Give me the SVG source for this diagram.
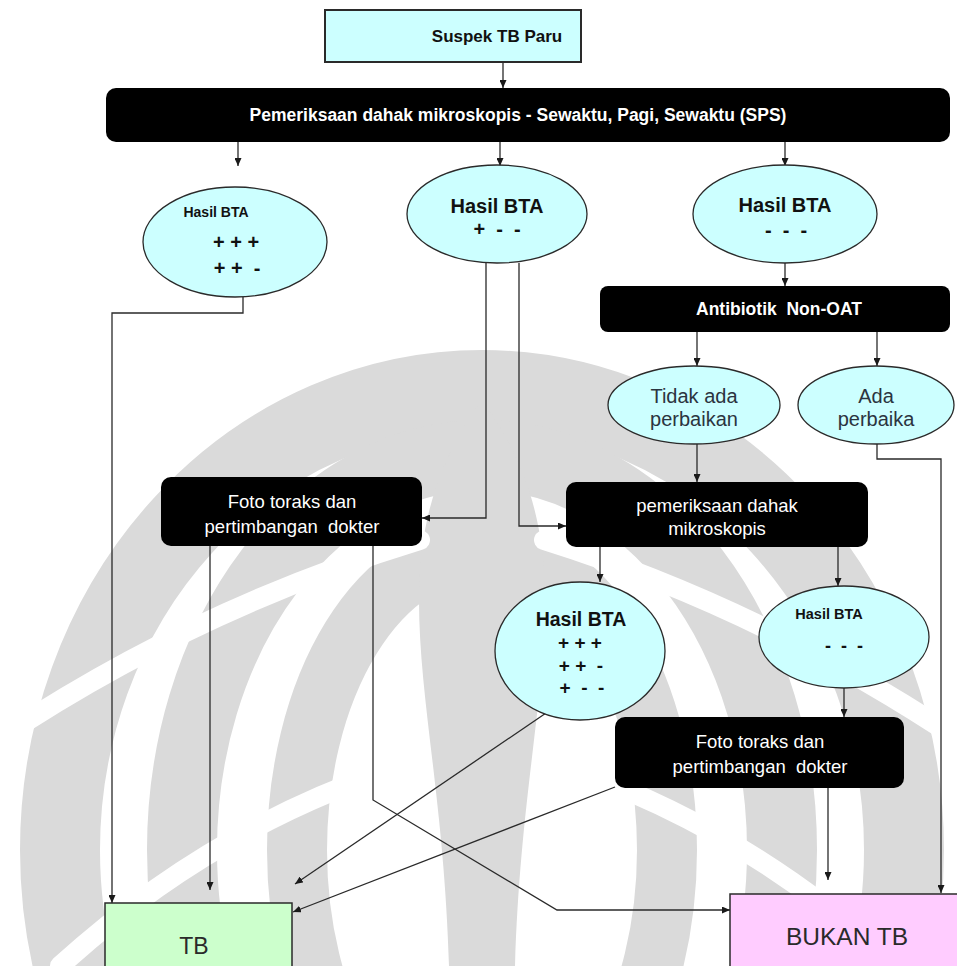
<svg xmlns="http://www.w3.org/2000/svg" width="957" height="966" viewBox="0 0 957 966">
  <style>
    .t { font-family: "Liberation Sans", Arial, sans-serif; text-anchor: middle; dominant-baseline: central; white-space: pre; }
    .b { font-weight: bold; }
    .w { fill: #ffffff; }
    .k { fill: #111111; }
    .s { fill: #2b3440; }
    .ln { fill: none; stroke: #2a2a2a; stroke-width: 1.3; }
    .arr { marker-end: url(#ah); }
    .oval { fill: #ccffff; stroke: #2a2a2a; stroke-width: 1.3; }
    .dark { fill: #000000; }
    .band { fill: none; stroke: #dadada; }
    .cut { fill: none; stroke: #ffffff; stroke-width: 20; stroke-linecap: round; }
  </style>
  <defs>
    <marker id="ah" viewBox="0 0 8 7" refX="8" refY="3.5" markerWidth="8" markerHeight="7" markerUnits="userSpaceOnUse" orient="auto">
      <path d="M0,0 L8,3.5 L0,7 z" fill="#1a1a1a"/>
    </marker>
  </defs>

  <rect width="957" height="966" fill="#ffffff"/>

  <!-- faint emblem behind the chart -->
  <g id="emblem">
    <ellipse class="band" cx="482" cy="850" rx="422" ry="460" stroke-width="80"/>
    <ellipse class="band" cx="482" cy="850" rx="300" ry="395" stroke-width="70"/>
    <ellipse class="band" cx="482" cy="850" rx="185" ry="300" stroke-width="60"/>
    <path fill="#dadada" d="M482,400 C525,460 545,520 545,600 C545,700 520,800 515,966 L449,966 C444,800 419,700 419,600 C419,520 439,460 482,400 Z"/>
    <path class="cut" d="M-10,745 Q190,610 420,540"/>
    <path class="cut" d="M967,745 Q767,610 544,540"/>
    <path class="cut" d="M60,966 Q220,820 420,760"/>
    <path class="cut" d="M897,966 Q737,820 544,760"/>
  </g>

  <!-- connectors -->
  <g id="connectors">
    <path class="ln arr" d="M503,62 V88"/>
    <path class="ln arr" d="M238,142 V166"/>
    <path class="ln arr" d="M500,142 V166"/>
    <path class="ln arr" d="M785,142 V166"/>
    <path class="ln arr" d="M785,262 V286"/>
    <path class="ln arr" d="M697,332 V366"/>
    <path class="ln arr" d="M877,332 V366"/>
    <path class="ln arr" d="M697,444 V482"/>
    <path class="ln arr" d="M877,444 V459 H941 V893"/>
    <path class="ln arr" d="M486,263 V518 H422"/>
    <path class="ln arr" d="M519,263 V526 H566"/>
    <path class="ln arr" d="M600,547 V582"/>
    <path class="ln arr" d="M838,547 V586"/>
    <path class="ln arr" d="M844,688 V717"/>
    <path class="ln arr" d="M828,788 V880"/>
    <path class="ln arr" d="M243,297 V313 H112 V903"/>
    <path class="ln arr" d="M210,546 V890"/>
    <path class="ln arr" d="M373,546 V800 L557,910 H730"/>
    <path class="ln arr" d="M549,711 L295,884"/>
    <path class="ln arr" d="M615,787 L293,912"/>
  </g>

  <g id="suspek">
    <rect x="325" y="10" width="256" height="52" fill="#ccffff" stroke="#2a2a2a" stroke-width="2"/>
    <text class="t b k" x="497" y="36" font-size="17">Suspek TB Paru</text>
  </g>

  <g id="sps">
    <rect class="dark" x="106" y="88" width="844" height="54" rx="10"/>
    <text class="t b w" x="518" y="115" font-size="17.5">Pemeriksaan dahak mikroskopis - Sewaktu, Pagi, Sewaktu (SPS)</text>
  </g>

  <g id="hasil-pos">
    <ellipse class="oval" cx="235" cy="242" rx="92" ry="55"/>
    <text class="t b k" x="216" y="212" font-size="14">Hasil BTA</text>
    <text class="t b k" x="236" y="242" font-size="20">+ + +</text>
    <text class="t b k" x="237" y="268" font-size="20">+ +  -</text>
  </g>

  <g id="hasil-scanty">
    <ellipse class="oval" cx="497" cy="214" rx="90" ry="49"/>
    <text class="t b k" x="497" y="206" font-size="20">Hasil BTA</text>
    <text class="t b k" x="497" y="229" font-size="20">+  -  -</text>
  </g>

  <g id="hasil-neg">
    <ellipse class="oval" cx="785" cy="214" rx="92" ry="49"/>
    <text class="t b k" x="785" y="205" font-size="20">Hasil BTA</text>
    <text class="t b k" x="786" y="230" font-size="20">-  -  -</text>
  </g>

  <g id="antibiotik">
    <rect class="dark" x="600" y="286" width="350" height="46" rx="8"/>
    <text class="t b w" x="779" y="309" font-size="17.5">Antibiotik  Non-OAT</text>
  </g>

  <g id="tidak-ada">
    <ellipse class="oval" cx="694" cy="405" rx="86" ry="39"/>
    <text class="t s" x="694" y="396" font-size="20">Tidak ada</text>
    <text class="t s" x="694" y="419" font-size="20">perbaikan</text>
  </g>

  <g id="ada">
    <ellipse class="oval" cx="876" cy="405" rx="78" ry="39"/>
    <text class="t s" x="876" y="396" font-size="20">Ada</text>
    <text class="t s" x="876" y="419" font-size="20">perbaika</text>
  </g>

  <g id="foto-1">
    <rect class="dark" x="161" y="477" width="261" height="69" rx="10"/>
    <text class="t w" x="292" y="501" font-size="18.5">Foto toraks dan</text>
    <text class="t w" x="292" y="526" font-size="18.5">pertimbangan  dokter</text>
  </g>

  <g id="periksa-ulang">
    <rect class="dark" x="566" y="482" width="302" height="65" rx="10"/>
    <text class="t w" x="717" y="505" font-size="18.5">pemeriksaan dahak</text>
    <text class="t w" x="717" y="528" font-size="18.5">mikroskopis</text>
  </g>

  <g id="hasil-ulang-pos">
    <ellipse class="oval" cx="580" cy="651" rx="85" ry="69"/>
    <text class="t b k" x="581" y="619" font-size="19.5">Hasil BTA</text>
    <text class="t b k" x="580" y="642" font-size="19">+ + +</text>
    <text class="t b k" x="581" y="665" font-size="19">+ +  -</text>
    <text class="t b k" x="582" y="687" font-size="19">+  -  -</text>
  </g>

  <g id="hasil-ulang-neg">
    <ellipse class="oval" cx="844" cy="637" rx="85" ry="51"/>
    <text class="t b k" x="829" y="614" font-size="14.5">Hasil BTA</text>
    <text class="t b k" x="844" y="646" font-size="18">-  -  -</text>
  </g>

  <g id="foto-2">
    <rect class="dark" x="615" y="717" width="289" height="71" rx="10"/>
    <text class="t w" x="760" y="741" font-size="18.5">Foto toraks dan</text>
    <text class="t w" x="760" y="766" font-size="18.5">pertimbangan  dokter</text>
  </g>

  <g id="tb">
    <rect x="105" y="903" width="187" height="80" fill="#ccffcc" stroke="#2a2a2a" stroke-width="1.5"/>
    <text class="t" x="194" y="946" font-size="23" fill="#2a2a2a">TB</text>
  </g>

  <g id="bukan-tb">
    <rect x="730" y="894" width="240" height="90" fill="#ffccff" stroke="#2a2a2a" stroke-width="1.5"/>
    <text class="t" x="847" y="936" font-size="24.5" fill="#2a2a2a">BUKAN TB</text>
  </g>
</svg>
